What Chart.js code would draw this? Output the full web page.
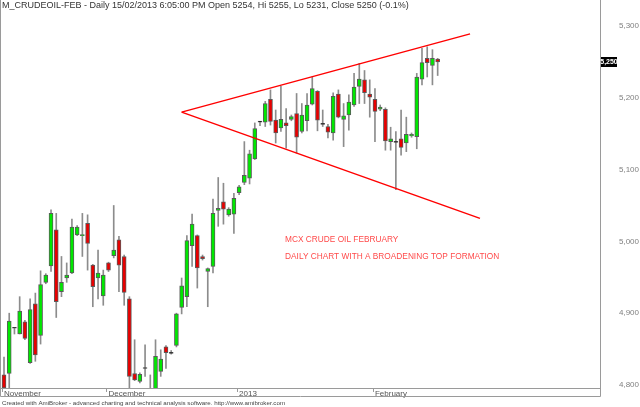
<!DOCTYPE html>
<html>
<head>
<meta charset="utf-8">
<script src="https://cdn.jsdelivr.net/npm/chart.js@4.4.1/dist/chart.umd.min.js"></script>
<style>
  html, body { margin: 0; padding: 0; background: #fff; }
  canvas { display: block; }
</style>
</head>
<body>
<canvas id="crudeChart" width="640" height="407"></canvas>
<script>
// daily bars, M_CRUDEOIL-FEB (Nov 2012 - 15 Feb 2013)
const opens  = [4814, 4816, 4879, 4871, 4888, 4831, 4913, 4869, 4943, 4966,
                5016, 4930, 4949, 4956, 5009, 5008, 5025, 4967, 4949, 4924,
                4970, 4980, 5002, 4979, 4920, 4816, 4805, 4823, 4782, 4790,
                4819, 4853, 4844, 4855, 4908, 4923, 4994, 5008, 4979, 4958,
                4965, 5043, 5055, 5037, 5038, 5068, 5082, 5088, 5115, 5166,
                5166, 5198, 5169, 5158, 5165, 5170, 5178, 5153, 5168, 5191,
                5209, 5163, 5160, 5151, 5205, 5170, 5176, 5190, 5216, 5225,
                5205, 5198, 5184, 5184, 5139, 5138, 5143, 5137, 5147, 5146,
                5226, 5255, 5245, 5254];
const highs  = [4839, 4900, 4880, 4923, 4890, 4920, 4928, 4959, 4955, 5044,
                5039, 4979, 4970, 5031, 5022, 5039, 5037, 4968, 4988, 4960,
                4971, 5050, 5007, 4981, 4923, 4863, 4817, 4856, 4814, 4863,
                4849, 4855, 4848, 4900, 4949, 5008, 5038, 5009, 4981, 4963,
                5059, 5089, 5081, 5047, 5067, 5078, 5139, 5127, 5165, 5167,
                5195, 5211, 5183, 5216, 5185, 5176, 5206, 5192, 5206, 5229,
                5210, 5183, 5163, 5207, 5211, 5192, 5204, 5234, 5248, 5238,
                5225, 5213, 5190, 5186, 5159, 5153, 5183, 5173, 5151, 5234,
                5269, 5271, 5267, 5255];
const lows   = [4793, 4793, 4871, 4871, 4863, 4830, 4833, 4857, 4941, 4958,
                4894, 4923, 4943, 4955, 5008, 4979, 4960, 4909, 4920, 4911,
                4958, 4977, 4930, 4911, 4795, 4806, 4803, 4812, 4770, 4785,
                4812, 4823, 4843, 4853, 4899, 4909, 4965, 4935, 4974, 4909,
                4956, 5021, 5024, 5035, 5011, 5065, 5079, 5080, 5114, 5161,
                5160, 5162, 5137, 5153, 5130, 5168, 5123, 5151, 5154, 5190,
                5154, 5160, 5144, 5141, 5172, 5132, 5155, 5188, 5192, 5192,
                5173, 5139, 5182, 5127, 5127, 5072, 5120, 5125, 5145, 5129,
                5218, 5229, 5218, 5231];
const closes = [4796, 4889, 4879, 4903, 4865, 4905, 4842, 4940, 4953, 5039,
                4916, 4943, 4953, 5020, 5020, 5009, 4997, 4937, 4956, 4953,
                4960, 4988, 4967, 4929, 4812, 4807, 4815, 4823, 4788, 4840,
                4836, 4845, 4844, 4899, 4938, 5001, 5024, 4963, 4976, 4962,
                5039, 5046, 5045, 5045, 5060, 5076, 5092, 5122, 5157, 5166,
                5192, 5167, 5151, 5170, 5161, 5174, 5145, 5176, 5190, 5213,
                5169, 5163, 5152, 5202, 5173, 5175, 5194, 5215, 5226, 5207,
                5201, 5181, 5187, 5140, 5143, 5138, 5131, 5149, 5149, 5229,
                5249, 5249, 5255, 5250];

// first bar of each month (bar index) and its label
const monthTicks  = [0, 20, 45, 71];
const monthLabels = ["November", "December", "2013", "February"];
const priceTicks  = [4800, 4900, 5000, 5100, 5200, 5300];

// broadening top trend lines, as [bar index, price]
const upperLine = [[34, 5180], [89.2, 5289]];
const lowerLine = [[34, 5180], [91.1, 5032]];

const titleText  = "M_CRUDEOIL-FEB - Daily 15/02/2013 6:05:00 PM Open 5254, Hi 5255, Lo 5231, Close 5250 (-0.1%)";
const footerText = "Created with AmiBroker - advanced charting and technical analysis software. http://www.amibroker.com";
const notes      = ["MCX CRUDE OIL FEBRUARY", "DAILY CHART WITH A BROADENING TOP FORMATION"];
const notesAt    = [[53.8, 5003], [53.8, 4978]];

const FONT = "'Liberation Sans', Arial, sans-serif";

const bodies = opens.map((o, i) => ({ x: i, y: [o, closes[i]] }));
const wicks  = lows.map((l, i) => ({ x: i, y: [l, highs[i]] }));
const bodyColors = opens.map((o, i) =>
  closes[i] > o ? "#00e800" : (closes[i] < o ? "#e80000" : "#000000"));

const amiPlugin = {
  id: "amibroker",
  afterDraw(chart) {
    const ctx = chart.ctx;
    const xs = chart.scales.x, ys = chart.scales.y;
    const right = chart.chartArea.right, bottom = chart.chartArea.bottom;
    ctx.save();

    // frame + month tick marks
    ctx.strokeStyle = "#9a9a9a";
    ctx.lineWidth = 1;
    ctx.beginPath();
    ctx.moveTo(0.5, 0); ctx.lineTo(0.5, 396.5);
    ctx.lineTo(right + 0.5, 396.5); ctx.lineTo(right + 0.5, 0);
    ctx.moveTo(0, bottom + 0.5); ctx.lineTo(right, bottom + 0.5);
    monthTicks.forEach(t => {
      const px = Math.round(xs.getPixelForValue(t)) - 1.5;
      ctx.moveTo(px, bottom); ctx.lineTo(px, bottom + 4);
    });
    ctx.stroke();

    // title and footer
    ctx.textBaseline = "middle";
    ctx.textAlign = "left";
    ctx.fillStyle = "#333";
    ctx.font = "9px " + FONT;
    ctx.fillText(titleText, 2, 5.5);
    ctx.font = "6.2px " + FONT;
    ctx.fillStyle = "#444";
    ctx.fillText(footerText, 2, 403);

    // notes
    ctx.font = "8.3px " + FONT;
    ctx.fillStyle = "#ff4a4a";
    notes.forEach((t, i) => {
      ctx.fillText(t, xs.getPixelForValue(notesAt[i][0]), ys.getPixelForValue(notesAt[i][1]));
    });

    // last close marker
    const last = closes[closes.length - 1];
    const py = Math.round(ys.getPixelForValue(last));
    ctx.fillStyle = "#000";
    ctx.fillRect(right + 1, py - 5, 16, 10);
    ctx.fillStyle = "#fff";
    ctx.font = "bold 7px " + FONT;
    ctx.textAlign = "center";
    ctx.fillText(last.toLocaleString("en-US"), right + 9, py + 0.5);
    ctx.restore();
  }
};

new Chart(document.getElementById("crudeChart"), {
  type: "bar",
  data: {
    datasets: [
      {
        label: "wick",
        data: wicks,
        backgroundColor: "#8c8c8c",
        borderWidth: 0,
        barThickness: 1,
        grouped: false,
        order: 3
      },
      {
        label: "body",
        data: bodies,
        backgroundColor: bodyColors,
        borderColor: "#5a5a5a",
        borderWidth: 1,
        borderSkipped: false,
        barThickness: 4,
        minBarLength: 1,
        grouped: false,
        order: 2
      },
      {
        type: "line",
        label: "upper",
        data: upperLine.map(p => ({ x: p[0], y: p[1] })),
        borderColor: "#ff0000",
        borderWidth: 1.5,
        pointRadius: 0,
        order: 1
      },
      {
        type: "line",
        label: "lower",
        data: lowerLine.map(p => ({ x: p[0], y: p[1] })),
        borderColor: "#ff0000",
        borderWidth: 1.5,
        pointRadius: 0,
        order: 1
      }
    ]
  },
  options: {
    responsive: false,
    animation: false,
    devicePixelRatio: 1,
    layout: { padding: { left: 1, top: 0, right: 0, bottom: 0 } },
    plugins: { legend: { display: false }, tooltip: { enabled: false } },
    scales: {
      x: {
        type: "linear",
        offset: false,
        min: -0.574,
        max: 114.07,
        grid: { display: false, drawTicks: false },
        border: { display: false },
        ticks: {
          align: "start",
          padding: 1,
          maxRotation: 0,
          autoSkip: false,
          color: "#555",
          font: { family: FONT, size: 8 },
          callback: (v, i) => monthLabels[i]
        },
        afterBuildTicks: s => { s.ticks = monthTicks.map(v => ({ value: v })); },
        afterFit: s => { s.height = 19; s.paddingLeft = 0; s.paddingRight = 0; }
      },
      y: {
        position: "right",
        min: 4795.8,
        max: 5336.2,
        grid: { display: false, drawTicks: false },
        border: { display: false },
        ticks: {
          padding: 19,
          color: "#808080",
          font: { family: FONT, size: 8 },
          callback: v => v.toLocaleString("en-US")
        },
        afterBuildTicks: s => { s.ticks = priceTicks.map(v => ({ value: v })); },
        afterFit: s => { s.width = 40; s.paddingTop = 0; s.paddingBottom = 0; }
      }
    }
  },
  plugins: [amiPlugin]
});
</script>
</body>
</html>
